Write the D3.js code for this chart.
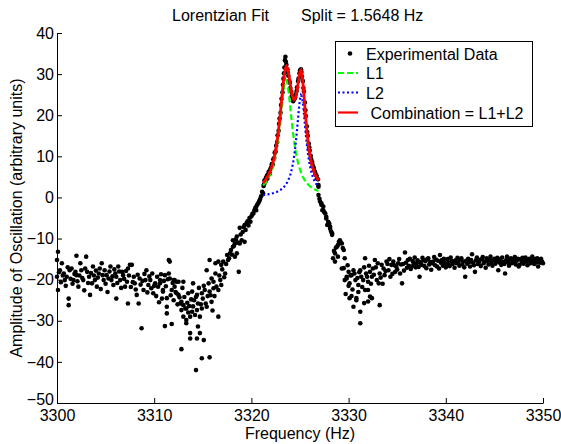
<!DOCTYPE html>
<html>
<head>
<meta charset="utf-8">
<script src="https://cdn.jsdelivr.net/npm/d3@7"></script>
<style>
body { margin: 0; background: #fff; }
text { font-family: "Liberation Sans", Arial, Helvetica, sans-serif; }
</style>
</head>
<body>
<svg id="chart"></svg>
<script>

// axis ticks
var xTicks = [3300, 3310, 3320, 3330, 3340, 3350];
var yTicks = [-50, -40, -30, -20, -10, 0, 10, 20, 30, 40];

var dataLeft = [
[3300.0,-15.2],[3300.0,-19.3],[3300.1,-13.2],[3300.1,-22.5],[3300.2,-18.2],[3300.3,-17.7],[3300.4,-20.6],[3300.5,-16.0],
[3300.6,-19.0],[3300.7,-18.5],[3300.8,-20.1],[3300.9,-21.5],[3301.0,-19.3],[3301.1,-17.0],[3301.2,-26.2],[3301.2,-24.6],
[3301.3,-17.7],[3301.4,-19.8],[3301.5,-17.3],[3301.6,-21.0],[3301.7,-20.1],[3301.8,-18.6],[3301.9,-18.1],[3302.0,-14.2],
[3302.0,-18.9],[3302.1,-20.4],[3302.2,-21.7],[3302.3,-19.0],[3302.4,-16.0],[3302.5,-17.7],[3302.6,-19.6],[3302.7,-20.1],
[3302.8,-22.6],[3302.9,-17.3],[3303.0,-14.4],[3303.1,-18.1],[3303.2,-20.8],[3303.3,-19.3],[3303.4,-23.7],[3303.5,-18.4],
[3303.6,-20.9],[3303.7,-16.8],[3303.8,-19.0],[3303.9,-20.1],[3304.0,-17.8],[3304.1,-21.7],[3304.2,-19.5],[3304.3,-18.5],
[3304.4,-17.3],[3304.5,-22.3],[3304.6,-16.0],[3304.7,-18.9],[3304.8,-20.1],[3304.9,-17.7],[3305.0,-21.0],[3305.1,-18.9],
[3305.2,-23.0],[3305.3,-19.7],[3305.4,-18.0],[3305.5,-16.8],[3305.6,-20.1],[3305.7,-19.2],[3305.8,-21.3],[3305.9,-17.5],
[3306.0,-18.5],[3306.1,-19.3],[3306.1,-24.6],[3306.2,-20.8],[3306.3,-16.8],[3306.4,-18.0],[3306.5,-20.1],[3306.6,-22.0],
[3306.7,-18.1],[3306.8,-18.9],[3306.9,-19.8],[3307.0,-21.7],[3307.1,-17.9],[3307.2,-20.5],[3307.3,-25.8],[3307.3,-17.3],
[3307.4,-19.0],[3307.5,-16.4],[3307.6,-21.8],[3307.7,-16.4],[3307.8,-20.6],[3307.9,-19.3],[3308.0,-20.9],[3308.1,-22.4],
[3308.2,-23.7],[3308.3,-18.8],[3308.4,-25.8],[3308.5,-19.7],[3308.6,-21.2],[3308.7,-31.8],[3308.8,-20.3],[3308.9,-22.5],
[3309.0,-18.6],[3309.1,-20.1],[3309.2,-17.7],[3309.3,-23.1],[3309.4,-21.3],[3309.5,-19.2],[3309.6,-20.1],[3309.7,-22.1],
[3309.8,-18.5],[3309.9,-23.3],[3310.0,-21.5],[3310.1,-20.9],[3310.2,-24.0],[3310.3,-19.3],[3310.4,-21.7],[3310.5,-25.5],
[3310.6,-20.1],[3310.6,-20.9],[3310.7,-18.7],[3310.8,-24.6],[3310.9,-22.5],[3310.9,-22.9],[3311.0,-20.3],[3311.1,-31.3],
[3311.1,-18.9],[3311.2,-21.6],[3311.3,-28.2],[3311.3,-24.5],[3311.3,-26.6],[3311.4,-19.9],[3311.5,-15.2],[3311.5,-18.5],
[3311.6,-15.6],[3311.6,-19.7],[3311.7,-23.8],[3311.8,-30.8],[3311.8,-22.5],[3311.9,-20.8],[3312.0,-20.1],[3312.0,-25.0],
[3312.1,-21.7],[3312.1,-20.1],[3312.2,-23.0],[3312.3,-20.5],[3312.3,-23.3],[3312.4,-26.0],[3312.5,-23.7],[3312.5,-20.5],
[3312.6,-24.3],[3312.7,-25.8]
];

var dataDip = [
[3312.8,-25.4],[3312.8,-27.4],[3312.8,-36.9],[3312.9,-22.0],[3313.0,-20.5],[3313.0,-26.2],[3313.0,-29.0],[3313.1,-24.2],
[3313.2,-27.0],[3313.3,-27.0],[3313.3,-29.8],[3313.3,-30.6],[3313.4,-25.6],[3313.5,-23.3],[3313.5,-28.0],[3313.6,-26.4],
[3313.7,-29.0],[3313.7,-33.0],[3313.7,-34.3],[3313.8,-24.8],[3313.9,-22.9],[3313.9,-27.8],[3314.0,-20.9],[3314.0,-26.5],
[3314.1,-25.0],[3314.2,-28.6],[3314.3,-42.0],[3314.3,-24.2],[3314.4,-23.7],[3314.4,-27.4],[3314.4,-34.3],[3314.5,-31.4],
[3314.5,-25.8],[3314.6,-22.0],[3314.7,-29.0],[3314.7,-33.0],[3314.8,-26.0],[3314.9,-23.3],[3314.9,-27.0],[3314.9,-39.1],
[3315.0,-24.6],[3315.1,-34.7],[3315.1,-21.5],[3315.2,-22.5],[3315.3,-25.8],[3315.4,-26.6],[3315.4,-17.7],[3315.5,-24.0],
[3315.6,-20.9],[3315.7,-22.9],[3315.7,-15.2],[3315.7,-38.9],[3315.8,-23.8],[3315.9,-25.4],[3315.9,-19.7],[3316.0,-27.5],
[3316.1,-20.5],[3316.1,-22.1],[3316.2,-24.0],[3316.3,-18.5],[3316.3,-16.0],[3316.4,-21.7],[3316.6,-29.0]
];

var dataRise = [
[3316.6,-15.6],[3316.6,-22.5],[3316.7,-19.0],[3316.8,-20.1],[3316.9,-16.4],[3316.9,-21.3],[3317.0,-17.5],[3317.1,-15.6],
[3317.2,-19.4],[3317.3,-18.5],[3317.4,-16.2],[3317.5,-14.0],[3317.6,-15.2],[3317.7,-14.8],[3317.8,-13.6],[3317.9,-12.8],
[3318.0,-13.9],[3318.1,-12.0],[3318.1,-10.4],[3318.2,-11.8],[3318.3,-14.4],[3318.3,-11.2],[3318.4,-10.2],[3318.5,-13.6],
[3318.5,-9.5],[3318.6,-11.0],[3318.7,-18.1],[3318.8,-11.2],[3318.8,-7.4],[3318.9,-9.0],[3319.0,-10.4],[3319.1,-8.4],
[3319.2,-7.2],[3319.3,-10.8],[3319.3,-6.7],[3319.4,-7.9],[3319.5,-6.3],[3319.6,-5.8],[3319.7,-6.8],[3319.8,-5.0],
[3319.9,-5.9],[3320.0,-4.6],[3320.1,-4.0],[3320.2,-3.9],[3320.3,-3.2],[3320.4,-2.6],[3320.5,-3.1],[3320.5,-2.2],
[3320.6,-1.8],[3320.7,-1.4],[3320.8,-0.9],[3320.9,-0.4],[3321.0,0.3],[3321.1,1.4],[3321.2,1.0]
];

var dataPeak = [
[3321.25,2.8],[3321.3,3.2],[3321.35,4.2],[3321.45,3.9],[3321.5,4.8],[3321.6,5.3],[3321.65,4.6],[3321.75,5.9],
[3321.8,6.3],[3321.9,5.8],[3321.95,6.9],[3322.05,7.4],[3322.1,8.1],[3322.2,8.0],[3322.25,9.3],[3322.35,9.6],
[3322.4,10.9],[3322.5,11.2],[3322.55,12.6],[3322.65,13.5],[3322.7,15.1],[3322.8,16.2],[3322.85,17.9],[3322.9,19.2],
[3323.0,20.6],[3323.05,22.5],[3323.1,24.0],[3323.2,25.6],[3323.25,27.4],[3323.3,28.9],[3323.35,30.2],[3323.4,31.6],
[3323.45,33.4],[3323.5,34.2],[3323.55,33.0],[3323.6,32.3],[3323.7,31.2],[3323.75,30.4],[3323.8,29.6],[3323.9,28.4],
[3323.95,27.9],[3324.0,26.6],[3324.1,25.7],[3324.15,24.6],[3324.25,24.2],[3324.3,23.4],[3324.4,23.9],[3324.5,24.3],
[3324.55,25.1],[3324.65,25.9],[3324.7,26.8],[3324.8,28.3],[3324.85,28.9],[3324.95,30.2],[3325.0,30.9],[3325.1,31.2],
[3325.15,30.5],[3325.2,29.4],[3325.3,28.3],[3325.35,26.6],[3325.4,25.8],[3325.5,23.1],[3325.55,21.2],[3325.6,19.8],
[3325.7,17.3],[3325.75,15.9],[3325.8,15.0],[3325.9,13.1],[3325.95,12.2],[3326.0,11.4],[3326.1,10.1],[3326.15,9.3],
[3326.25,8.6],[3326.3,7.9],[3326.4,7.3],[3326.45,6.6],[3326.55,6.2],[3326.6,5.6],[3326.7,5.3],[3326.75,4.6],
[3326.85,4.4],[3326.9,3.0],[3326.9,2.6]
];

var dataFall = [
[3326.9,0.6],[3327.0,-0.3],[3327.06,-1.0],[3327.2,-1.4],[3327.2,-1.8],[3327.3,-3.1],[3327.4,-2.2],[3327.4,-3.1],
[3327.5,-3.6],[3327.6,-3.9],[3327.7,-4.7],[3327.7,-5.1],[3327.8,-6.7],[3327.9,-5.9],[3328.0,-6.3],[3328.1,-7.1],
[3328.1,-7.6],[3328.2,-8.3],[3328.3,-9.1],[3328.3,-8.7],[3328.4,-14.8],[3328.5,-13.0],[3328.6,-13.6],[3328.6,-15.6],
[3328.7,-12.2],[3328.8,-12.0],[3328.9,-11.6],[3328.9,-14.4],[3329.0,-10.8],[3329.1,-10.4],[3329.2,-11.0],[3329.3,-11.2],
[3329.4,-12.3],[3329.5,-12.8],[3329.6,-14.8]
];

var dataRecover = [
[3329.3,-17.3],[3329.5,-17.2],[3329.6,-20.1],[3329.7,-23.5],[3329.8,-19.3],[3329.8,-19.7],[3329.9,-16.5],[3330.0,-18.1],
[3330.0,-21.5],[3330.1,-20.9],[3330.1,-24.5],[3330.2,-19.0],[3330.3,-18.9],[3330.3,-24.0],[3330.4,-22.4],[3330.5,-17.7],
[3330.5,-26.6],[3330.6,-18.5],[3330.7,-20.1],[3330.8,-25.0],[3330.8,-24.5],[3330.9,-19.6],[3331.0,-21.3],[3331.0,-23.0],
[3331.1,-18.2],[3331.2,-17.7],[3331.2,-27.8],[3331.2,-30.6],[3331.3,-19.3],[3331.4,-21.8],[3331.5,-20.1],[3331.6,-17.0],
[3331.6,-25.7],[3331.7,-14.8],[3331.7,-22.5],[3331.8,-18.5],[3331.9,-19.3],[3332.0,-20.5],[3332.0,-22.5],[3332.0,-25.3],
[3332.1,-16.6],[3332.2,-24.1],[3332.2,-18.1],[3332.3,-21.0],[3332.4,-19.3],[3332.4,-24.5],[3332.5,-17.3],[3332.6,-18.8],
[3332.7,-15.2],[3332.8,-17.0],[3332.9,-20.1],[3333.0,-16.0],[3333.1,-20.9],[3333.2,-18.5],[3333.2,-26.2],[3333.3,-19.5],
[3333.4,-16.4],[3333.5,-21.0],[3333.6,-17.3],[3333.7,-18.9],[3333.8,-17.9],[3333.9,-15.6],[3334.0,-16.2],[3334.1,-17.7],
[3334.2,-15.0],[3334.3,-19.3],[3334.4,-16.4],[3334.5,-18.6],[3334.6,-15.6],[3334.7,-16.5],[3334.8,-18.1],[3334.9,-16.8],
[3335.0,-17.5],[3335.1,-16.0],[3335.2,-15.0],[3335.3,-18.5],[3335.4,-16.3],[3335.5,-20.9]
];

var dataRight = [
[3335.6,-16.2],[3335.7,-17.8],[3335.8,-13.4],[3335.9,-15.9],[3336.0,-17.1],[3336.1,-15.2],[3336.2,-16.6],[3336.3,-14.9],
[3336.4,-17.4],[3336.5,-16.8],[3336.6,-15.5],[3336.7,-16.1],[3336.8,-14.6],[3336.9,-17.0],[3337.0,-16.0],[3337.1,-15.3],
[3337.2,-16.9],[3337.3,-19.3],[3337.4,-15.8],[3337.5,-16.4],[3337.6,-14.7],[3337.7,-15.2],[3337.8,-16.7],[3337.9,-15.5],
[3338.0,-17.2],[3338.1,-15.0],[3338.2,-14.8],[3338.3,-16.3],[3338.4,-15.7],[3338.5,-17.6],[3338.6,-16.0],[3338.7,-15.6],
[3338.8,-14.5],[3338.9,-16.5],[3339.0,-15.1],[3339.1,-16.8],[3339.2,-15.4],[3339.3,-17.3],[3339.4,-14.0],[3339.5,-15.9],
[3339.6,-15.2],[3339.7,-16.6],[3339.8,-14.9],[3339.9,-15.8],[3340.0,-17.0],[3340.1,-16.4],[3340.2,-15.0],[3340.3,-15.9],
[3340.4,-16.7],[3340.5,-14.6],[3340.6,-15.5],[3340.7,-16.2],[3340.8,-15.6],[3340.9,-17.1],[3341.0,-15.3],[3341.1,-16.0],
[3341.2,-14.7],[3341.3,-15.8],[3341.4,-16.6],[3341.5,-15.1],[3341.6,-14.8],[3341.7,-16.3],[3341.8,-15.6],[3341.9,-17.0],
[3342.0,-19.3],[3342.1,-15.4],[3342.2,-16.1],[3342.3,-14.9],[3342.4,-15.7],[3342.5,-16.8],[3342.6,-15.2],[3342.7,-13.8],
[3342.8,-15.9],[3342.9,-16.5],[3343.0,-18.1],[3343.1,-15.3],[3343.2,-14.6],[3343.3,-16.2],[3343.4,-15.8],[3343.5,-15.2],
[3343.6,-16.7],[3343.7,-15.0],[3343.8,-14.5],[3343.9,-16.0],[3344.0,-15.6],[3344.1,-17.1],[3344.2,-14.8],[3344.3,-15.5],
[3344.4,-16.3],[3344.5,-15.1],[3344.6,-14.4],[3344.7,-15.9],[3344.8,-16.6],[3344.9,-15.2],[3345.0,-14.9],[3345.1,-16.1],
[3345.2,-15.4],[3345.3,-14.7],[3345.4,-17.7],[3345.5,-15.8],[3345.6,-15.0],[3345.7,-16.4],[3345.8,-14.6],[3345.9,-15.7],
[3346.0,-16.2],[3346.1,-18.5],[3346.2,-15.3],[3346.3,-14.4],[3346.4,-15.9],[3346.5,-16.6],[3346.6,-15.1],[3346.7,-14.8],
[3346.8,-16.0],[3346.9,-15.2],[3347.0,-15.7],[3347.1,-14.5],[3347.2,-16.3],[3347.3,-15.4],[3347.4,-14.9],[3347.5,-16.8],
[3347.6,-16.4],[3347.7,-15.0],[3347.8,-15.6],[3347.9,-14.7],[3348.0,-16.1],[3348.1,-15.3],[3348.2,-14.6],[3348.3,-15.6],
[3348.4,-16.5],[3348.5,-15.2],[3348.6,-14.9],[3348.7,-16.0],[3348.8,-15.5],[3348.9,-14.4],[3349.0,-15.2],[3349.1,-16.2],
[3349.2,-15.0],[3349.3,-15.8],[3349.4,-14.8],[3349.5,-16.8],[3349.6,-15.4],[3349.7,-15.9],[3349.8,-14.9],[3349.9,-15.6],
[3350.0,-16.0]
];

// fitted curves
var fitFreq = [3321.2,3321.3,3321.4,3321.5,3321.6,3321.7,3321.8,3321.9,3322.0,3322.1,3322.2,3322.3,3322.4,3322.5,3322.6,
3322.7,3322.8,3322.9,3323.0,3323.1,3323.2,3323.3,3323.4,3323.5,3323.6,3323.7,3323.8,3323.9,3324.0,3324.1,3324.2,3324.3,
3324.4,3324.5,3324.6,3324.7,3324.8,3324.9,3325.0,3325.1,3325.2,3325.3,3325.4,3325.5,3325.6,3325.7,3325.8,3325.9,3326.0,
3326.1,3326.2,3326.3,3326.4,3326.5,3326.6,3326.7,3326.8,3326.9];

var l1Vals = [2.95,3.18,3.45,3.75,4.09,4.46,4.90,5.39,5.96,6.61,7.35,8.22,9.22,10.37,11.72,13.27,15.03,17.01,19.19,21.49,
23.78,25.87,27.50,28.44,28.53,27.75,26.24,24.23,21.96,19.65,17.44,15.41,13.60,12.01,10.63,9.44,8.41,7.51,6.75,6.08,5.50,
4.99,4.55,4.16,3.81,3.51,3.24,2.99,2.78,2.58,2.41,2.25,2.10,1.97,1.85,1.74,1.64,1.55];

var l2Vals = [0.57,0.60,0.63,0.66,0.70,0.74,0.79,0.83,0.89,0.94,1.01,1.07,1.15,1.24,1.33,1.44,1.55,1.69,1.84,2.01,2.21,
2.43,2.69,2.99,3.34,3.75,4.23,4.82,5.51,6.35,7.37,8.62,10.12,11.94,14.10,16.58,19.26,21.82,23.86,24.86,24.52,22.95,20.58,
17.90,15.30,12.98,10.99,9.33,7.96,6.84,5.91,5.15,4.51,3.98,3.54,3.16,2.83,2.55];

var comboVals = [3.52,3.78,4.08,4.41,4.79,5.20,5.69,6.22,6.85,7.55,8.36,9.29,10.37,11.61,13.05,14.71,16.58,18.70,21.03,
23.50,25.99,28.30,30.19,31.43,31.87,31.50,30.47,29.05,27.47,26.00,24.81,24.03,23.72,23.95,24.73,26.02,27.67,29.33,30.61,
30.94,30.02,27.94,25.13,22.06,19.11,16.49,14.23,12.32,10.74,9.42,8.32,7.40,6.61,5.95,5.39,4.90,4.47,4.10];

var legendLabels = ["Experimental Data", "L1", "L2", " Combination = L1+L2"];

// 表示サイズ
var size = { width: 561, height: 444 };
var plot = { left: 57, right: 543, top: 33, bottom: 403 };

var svg = d3.select("#chart")
  .attr("width", size.width)
  .attr("height", size.height);

svg.append("rect")
  .attr("width", size.width)
  .attr("height", size.height)
  .attr("fill", "#fff");

var x = d3.scaleLinear().domain([3300, 3350]).range([plot.left, plot.right]);
var y = d3.scaleLinear().domain([-50, 40]).range([plot.bottom, plot.top]);

// axes (ticks point inward, no box)
var xAxis = svg.append("g")
  .attr("transform", "translate(0," + plot.bottom + ")")
  .call(d3.axisBottom(x).tickValues(xTicks).tickFormat(d3.format("d"))
    .tickSizeInner(-5).tickSizeOuter(0).tickPadding(7));

var yAxis = svg.append("g")
  .attr("transform", "translate(" + plot.left + ",0)")
  .call(d3.axisLeft(y).tickValues(yTicks).tickFormat(d3.format("d"))
    .tickSizeInner(-5).tickSizeOuter(0).tickPadding(3));

[xAxis, yAxis].forEach(function(g){
  g.selectAll("text").attr("font-size", 16).attr("fill", "#000")
    .attr("font-family", "Liberation Sans, Arial, sans-serif");
  g.selectAll("line").attr("stroke", "#000");
  g.select(".domain").attr("stroke", "#000");
});

// the bottom label -50 sits a little higher so it clears 3300
yAxis.selectAll(".tick text")
  .filter(function(d){ return d === -50; })
  .attr("dy", "0.1em");

// data points
var allData = [].concat(dataLeft, dataDip, dataRise, dataPeak, dataFall, dataRecover, dataRight);

svg.append("g")
  .selectAll("circle")
  .data(allData)
  .enter()
  .append("circle")
  .attr("cx", function(d){ return x(d[0]); })
  .attr("cy", function(d){ return y(d[1]); })
  .attr("r", 2.3)
  .attr("fill", "#000");

// fit lines
function fitLine(vals){
  return d3.line()
    .x(function(d, i){ return x(fitFreq[i]); })
    .y(function(d){ return y(d); })(vals);
}

svg.append("path")
  .attr("d", fitLine(l1Vals))
  .attr("fill", "none")
  .attr("stroke", "#00ff00")
  .attr("stroke-width", 2.2)
  .attr("stroke-dasharray", "6,3");

svg.append("path")
  .attr("d", fitLine(l2Vals))
  .attr("fill", "none")
  .attr("stroke", "#0000ff")
  .attr("stroke-width", 2.2)
  .attr("stroke-dasharray", "2,2.5");

svg.append("path")
  .attr("d", fitLine(comboVals))
  .attr("fill", "none")
  .attr("stroke", "#ff0000")
  .attr("stroke-width", 2.8);

// title
svg.append("text")
  .attr("x", 172).attr("y", 21)
  .attr("font-size", 16)
  .text("Lorentzian Fit");

svg.append("text")
  .attr("x", 301).attr("y", 21)
  .attr("font-size", 16)
  .text("Split = 1.5648 Hz");

// axis labels
svg.append("text")
  .attr("x", 300).attr("y", 439)
  .attr("text-anchor", "middle")
  .attr("font-size", 16)
  .text("Frequency (Hz)");

svg.append("text")
  .attr("transform", "translate(22,218) rotate(-90)")
  .attr("text-anchor", "middle")
  .attr("font-size", 16)
  .text("Amplitude of Oscillation (arbitrary units)");

// legend
var legend = svg.append("g");

legend.append("rect")
  .attr("x", 335.5).attr("y", 41.5)
  .attr("width", 197).attr("height", 85)
  .attr("fill", "#fff")
  .attr("stroke", "#000");

var rowY = [53.5, 73, 92.5, 112.5];
var rowStyle = [
  { color: "#000" },
  { color: "#00ff00", dash: "6,3" },
  { color: "#0000ff", dash: "2,2.5" },
  { color: "#ff0000" }
];

legendLabels.forEach(function(label, i){
  if (i === 0) {
    legend.append("circle")
      .attr("cx", 350).attr("cy", rowY[i])
      .attr("r", 2.3).attr("fill", "#000");
  } else {
    legend.append("line")
      .attr("x1", 338).attr("x2", 358)
      .attr("y1", rowY[i]).attr("y2", rowY[i])
      .attr("stroke", rowStyle[i].color)
      .attr("stroke-width", 2.2)
      .attr("stroke-dasharray", rowStyle[i].dash || null);
  }
  legend.append("text")
    .attr("x", 366).attr("y", rowY[i] + 6)
    .attr("font-size", 16)
    .style("white-space", "pre")
    .text(label);
});

</script>
</body>
</html>
